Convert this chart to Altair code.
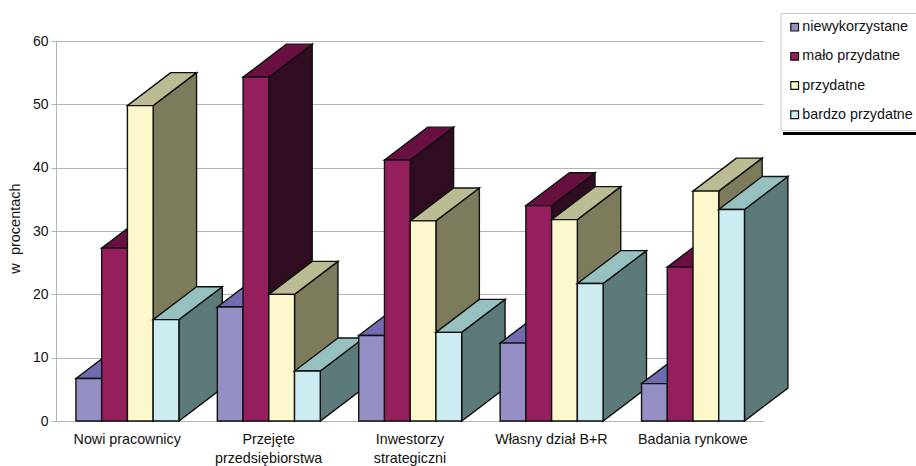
import altair as alt
import pandas as pd

categories = ["Nowi pracownicy", "Przejęte przedsiębiorstwa", "Inwestorzy strategiczni",
              "Własny dział B+R", "Badania rynkowe"]
series = ["niewykorzystane", "mało przydatne", "przydatne", "bardzo przydatne"]
niewykorzystane = [6.7, 18.0, 13.5, 12.3, 5.9]
malo_przydatne = [27.3, 54.3, 41.2, 34.0, 24.3]
przydatne = [49.8, 20.0, 31.6, 31.8, 36.3]
bardzo_przydatne = [16.0, 7.9, 14.0, 21.7, 33.4]
series_values = [niewykorzystane, malo_przydatne, przydatne, bardzo_przydatne]

front_colors = ["#9490c6", "#951f5d", "#fcf8cc", "#cdecf2"]
top_colors = ["#6f6cb0", "#6a1040", "#bcbc94", "#97c0c0"]
side_colors = ["#4a4880", "#2f0c20", "#7c7c5c", "#5c7a7a"]

BAR_WIDTH = 0.182
DEPTH_X = 0.307
DEPTH_Y = 5.2
OUTLINE = "#111111"
GREY = "#b3b3b3"
FONT = "Liberation Sans"

x_scale = alt.Scale(domain=[0, 5], nice=False, zero=False)
y_scale = alt.Scale(domain=[0, 60], nice=False)
color_scale = alt.Scale(domain=series, range=front_colors)

category_labels = ("[['Nowi pracownicy'],['Przejęte','przedsiębiorstwa'],"
                   "['Inwestorzy','strategiczni'],['Własny dział B+R'],"
                   "['Badania rynkowe']][floor(datum.value)]")
x_axis = alt.Axis(values=[0.5, 1.5, 2.5, 3.5, 4.5], labelExpr=category_labels, title=None,
                  ticks=False, grid=False, domainColor=GREY, labelFont=FONT, labelFontSize=14.3,
                  labelColor="#111111", labelPadding=11.5, labelLineHeight=19, labelOverlap=False,
                  labelFlush=False, labelBaseline="top")
y_axis = alt.Axis(values=[0, 10, 20, 30, 40, 50, 60], title="w\u00a0\u00a0procentach", grid=True,
                  gridColor=GREY, gridWidth=1, domainColor=GREY, tickColor=GREY, tickSize=5,
                  labelFont=FONT, labelFontSize=14, labelColor="#111111", labelPadding=3,
                  titleFont=FONT, titleFontSize=14.5, titleFontWeight="normal", titleColor="#111111",
                  titleX=-34, titleY=187)
legend = alt.Legend(orient="none", legendX=724.5, legendY=-28, title=None, fillColor="white",
                    strokeColor="#c8c8c8", padding=7, symbolType="square", symbolSize=60,
                    symbolStrokeColor="#111111", symbolStrokeWidth=1.2, symbolOpacity=1,
                    labelFont=FONT, labelFontSize=14.3, labelColor="#111111", rowPadding=14.2,
                    labelOffset=0.5, symbolOffset=0, columnPadding=0)


def x_channel(field):
    return alt.X(field, scale=x_scale, axis=x_axis, stack=None)


def y_channel(field):
    return alt.Y(field, scale=y_scale, axis=y_axis, stack=None)


layers = []
# Bars are painted left to right, each as side, top, then front face, so nearer bars overlap
for g, category in enumerate(categories):
    for s, name in enumerate(series):
        value = series_values[s][g]
        left = g + 0.5 - 2 * BAR_WIDTH + s * BAR_WIDTH + 0.005
        right = left + BAR_WIDTH

        side = pd.DataFrame({"x": [right, right + DEPTH_X],
                             "y": [value, value + DEPTH_Y],
                             "y2": [0, DEPTH_Y]})
        top = pd.DataFrame({"y": [value, value + DEPTH_Y],
                            "x": [left, left + DEPTH_X],
                            "x2": [right, right + DEPTH_X]})
        front = pd.DataFrame({"x": [left], "x2": [right], "y": [value], "y2": [0],
                              "seria": [name]})

        layers.append(
            alt.Chart(side).mark_area(color=side_colors[s], stroke=OUTLINE, strokeWidth=1.4,
                                      opacity=1).encode(
                x=x_channel("x:Q"), y=y_channel("y:Q"), y2="y2:Q",
            ))
        layers.append(
            alt.Chart(top).mark_area(orient="horizontal", color=top_colors[s], stroke=OUTLINE,
                                     strokeWidth=1.4, opacity=1).encode(
                y=y_channel("y:Q"), x=x_channel("x:Q"), x2="x2:Q",
            ))
        layers.append(
            alt.Chart(front).mark_rect(stroke=OUTLINE, strokeWidth=1.4, opacity=1).encode(
                x=x_channel("x:Q"), x2="x2:Q", y=y_channel("y:Q"), y2="y2:Q",
                color=alt.Color("seria:N", scale=color_scale, legend=legend),
            ))

# Heavy line under the legend box
shadow = alt.Chart(pd.DataFrame({"a": [0]})).mark_rule(color="black", strokeWidth=3).encode(
    x=alt.value(727), x2=alt.value(860), y=alt.value(92.5))
layers.append(shadow)

chart = alt.layer(*layers).properties(
    width=707, height=380,
    autosize=alt.AutoSizeParams(type="none"),
    padding={"left": 56, "top": 41, "right": 153, "bottom": 45},
    background="white",
).configure_view(stroke=None)

chart.save("out.html", embed_options={"renderer": "svg", "actions": False})
